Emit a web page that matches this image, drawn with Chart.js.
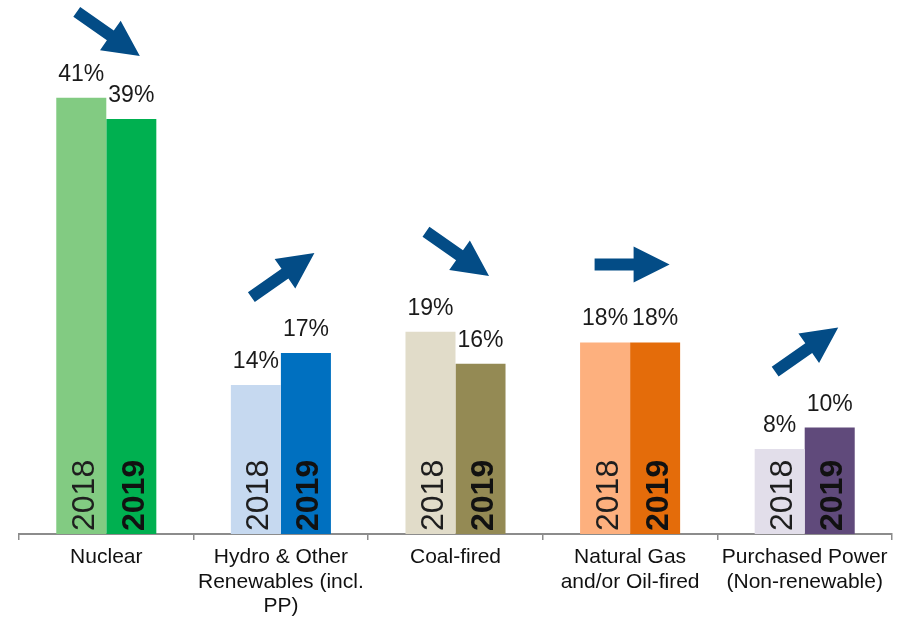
<!DOCTYPE html>
<html>
<head>
<meta charset="utf-8">
<script src="https://cdn.jsdelivr.net/npm/chart.js@4.4.1/dist/chart.umd.min.js"></script>
<style>
  html, body { margin: 0; padding: 0; background: #ffffff; }
  #wrap { width: 898px; height: 617px; position: relative; }
  canvas { display: block; }
</style>
</head>
<body>
<div id="wrap"><canvas id="c" width="898" height="617"></canvas></div>
<script>
// ---- data ----
const categories = [
  ["Nuclear"],
  ["Hydro & Other", "Renewables (incl.", "PP)"],
  ["Coal-fired"],
  ["Natural Gas", "and/or Oil-fired"],
  ["Purchased Power", "(Non-renewable)"]
];
const seriesYears = ["2018", "2019"];
const share2018 = [41, 14, 19, 18, 8];
const share2019 = [39, 17, 16, 18, 10];

// ---- styles ----
const colors2018 = ["#82CB82", "#C6D9F0", "#E1DCC9", "#FDB07E", "#E2DEEA"];
const colors2019 = ["#00B050", "#0070C0", "#948A54", "#E46C0A", "#604A7B"];
const FONT = "'Liberation Sans', Arial, sans-serif";
const ARROW_COLOR = "#034C86";

const labelPlugin = {
  id: 'barLabels',
  afterDatasetsDraw(chart) {
    const ctx = chart.ctx;
    const yScale = chart.scales.y;
    chart.data.datasets.forEach((ds, di) => {
      const meta = chart.getDatasetMeta(di);
      meta.data.forEach((bar, i) => {
        const v = ds.data[i];
        // percent label above bar
        ctx.save();
        ctx.fillStyle = '#1a1a1a';
        ctx.font = `23px ${FONT}`;
        ctx.textAlign = 'center';
        ctx.textBaseline = 'alphabetic';
        ctx.fillText(v + '%', bar.x, bar.y - 17);
        ctx.restore();
        // year label inside bar, rotated
        ctx.save();
        const fs = 32;
        ctx.font = (di === 1 ? 'bold ' : '') + fs + 'px ' + FONT;
        ctx.fillStyle = di === 1 ? '#111111' : '#1e1e1e';
        ctx.translate(bar.x + 0.716 * fs / 2 + 1, bar.base - 3);
        ctx.rotate(-Math.PI / 2);
        ctx.textAlign = 'left';
        ctx.textBaseline = 'alphabetic';
        ctx.fillText(ds.label, 0, 0);
        ctx.restore();
      });
    });
    // trend arrows
    const xScale = chart.scales.x;
    categories.forEach((c, i) => {
      const a = share2018[i], b = share2019[i];
      const cx = xScale.getPixelForValue(i) + 2;
      const topY = yScale.getPixelForValue(Math.max(a, b));
      const cy = Math.max(topY - 78, 34);
      const ang = b > a ? -35 * Math.PI / 180 : (b < a ? 35 * Math.PI / 180 : 0);
      const L = ang === 0 ? 75 : 77;
      const ux = Math.cos(ang), uy = Math.sin(ang);
      const nx = -uy, ny = ux;
      const tx = cx - ux * L / 2, ty = cy - uy * L / 2;
      const px = cx + ux * L / 2, py = cy + uy * L / 2;
      const hl = 36, sw = 6, hw = 18;
      const kx = px - ux * hl, ky = py - uy * hl;
      ctx.save();
      ctx.fillStyle = ARROW_COLOR;
      ctx.beginPath();
      ctx.moveTo(tx + nx * sw, ty + ny * sw);
      ctx.lineTo(kx + nx * sw, ky + ny * sw);
      ctx.lineTo(kx + nx * hw, ky + ny * hw);
      ctx.lineTo(px, py);
      ctx.lineTo(kx - nx * hw, ky - ny * hw);
      ctx.lineTo(kx - nx * sw, ky - ny * sw);
      ctx.lineTo(tx - nx * sw, ty - ny * sw);
      ctx.closePath();
      ctx.fill();
      ctx.restore();
    });
  }
};

new Chart(document.getElementById('c'), {
  type: 'bar',
  data: {
    labels: categories,
    datasets: [
      { label: seriesYears[0], data: share2018, backgroundColor: colors2018 },
      { label: seriesYears[1], data: share2019, backgroundColor: colors2019 }
    ]
  },
  options: {
    responsive: false,
    devicePixelRatio: 1,
    animation: false,
    layout: { padding: { left: 19, right: 6, top: 2, bottom: 0 } },
    plugins: { legend: { display: false }, tooltip: { enabled: false } },
    datasets: { bar: { categoryPercentage: 0.573, barPercentage: 1.0, borderWidth: 0 } },
    scales: {
      x: {
        offset: true,
        afterFit: (s) => { s.height = 83; },
        grid: { display: true, offset: true, drawOnChartArea: false, drawTicks: true, tickLength: 6, color: '#8C8C8C', lineWidth: 1.5 },
        border: { display: true, color: '#8C8C8C', width: 2 },
        ticks: {
          color: '#111111',
          padding: 5,
          maxRotation: 0,
          autoSkip: false,
          font: { family: FONT, size: 21, lineHeight: 1.167 }
        }
      },
      y: {
        display: false,
        min: 0,
        max: 50
      }
    }
  },
  plugins: [labelPlugin]
});
</script>
</body>
</html>
